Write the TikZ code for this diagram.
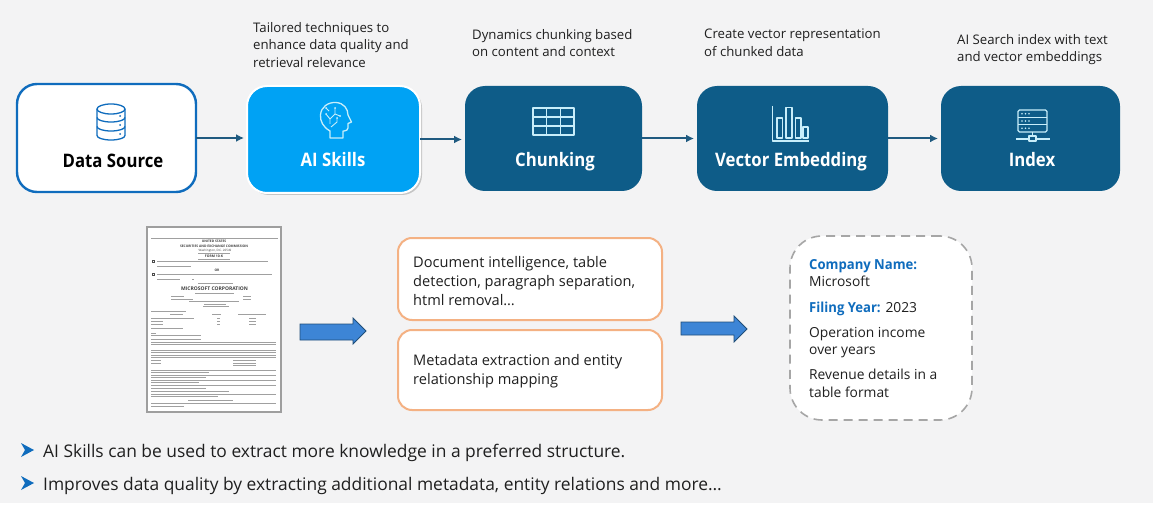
\documentclass[tikz,border=0pt]{standalone}
\usepackage{fontspec}
\setmainfont{Open Sans}
\newfontfamily\labfont[FakeStretch=0.9]{Open Sans}
\newfontfamily\keyfont[FakeStretch=0.95]{Open Sans}
\usetikzlibrary{arrows.meta,shadows}
\definecolor{bg}{HTML}{F3F3F4}
\definecolor{navy}{HTML}{0E5C88}
\definecolor{sky}{HTML}{00A2F4}
\definecolor{edgeblue}{HTML}{0F6CBD}
\definecolor{linkc}{HTML}{1F5A80}
\definecolor{orangeb}{HTML}{F4B183}
\definecolor{iconc}{HTML}{C8EEFA}
\definecolor{ink}{HTML}{1F1F1F}
\definecolor{thick}{HTML}{3D85D6}
\definecolor{thickb}{HTML}{1F4E79}
\definecolor{greyl}{HTML}{A0A0A0}
\tikzset{
 x=1pt,y=-1pt,
 pipeline/.style={rounded corners=20,minimum height=105,inner sep=0,outer sep=0,anchor=north west},
 darkbox/.style={pipeline,fill=navy},
 boxlabel/.style={inner sep=0,anchor=base,font=\labfont\fontsize{18.6}{22}\selectfont\bfseries},
 link/.style={draw=linkc,line width=2,-{Latex[length=8,width=8]},shorten >=3},
 caption/.style={anchor=north west,align=left,font=\fontsize{13.2}{17.4}\selectfont,text=ink,inner sep=0},
 orangebox/.style={draw=orangeb,line width=2,fill=white,rounded corners=14,inner sep=0,outer sep=0,anchor=north west},
 body/.style={anchor=north west,align=left,font=\fontsize{14.6}{19}\selectfont,text=ink,inner sep=0},
 factl/.style={anchor=north west,align=left,font=\fontsize{13.8}{17.5}\selectfont,text=ink,inner sep=0},
 bulletm/.style={fill=edgeblue,draw=none},
 bullett/.style={anchor=west,font=\fontsize{17.4}{20}\selectfont,text=ink,inner sep=0},
 ic/.style={draw=iconc,line width=1.3,line join=round},
 doct/.style={inner sep=0,text=black!75,font=\fontsize{3.3}{4}\selectfont\bfseries},
 docl/.style={draw=greyl,line width=1},
 bigarrow/.style={fill=thick,draw=thickb,line width=.8,line join=miter},
}
\begin{document}
\begin{tikzpicture}
\useasboundingbox (0,0) rectangle (1153,505);
\fill[bg] (0,0) rectangle (1153,503);
\fill[white] (0,503) rectangle (1153,505);

% pipeline boxes
\node[pipeline,draw=edgeblue,line width=2.4,fill=white,minimum width=179,minimum height=108] (ds) at (17,84) {};
\node[pipeline,draw=white,line width=2,fill=sky,minimum width=173,minimum height=107,
      drop shadow={shadow xshift=2pt,shadow yshift=-2pt,opacity=.4}] (ai) at (247,86) {};
\node[darkbox,minimum width=177] (ch) at (465,86) {};
\node[darkbox,minimum width=191] (ve) at (697,86) {};
\node[darkbox,minimum width=179] (ix) at (941,86) {};

\node[boxlabel,text=black] (dsl) at (113,167.5) {Data Source};
\node[boxlabel,text=white] (ail) at (333,166.5) {AI Skills};
\node[boxlabel,text=white] (chl) at (555,167) {Chunking};
\node[boxlabel,text=white] (vel) at (791,166.5) {Vector Embedding};
\node[boxlabel,text=white] (ixl) at (1032,166.5) {Index};

% connectors
\draw[link] (ds.east) -- (ds.east -| ai.west);
\draw[link] (ai.east) -- (ai.east -| ch.west);
\draw[link] (ch.east) -- (ch.east -| ve.west);
\draw[link] (ve.east) -- (ve.east -| ix.west);

% captions
\node[caption] (c1) at (253,22) {Tailored techniques to\\enhance data quality and\\retrieval relevance};
\node[caption] (c2) at (472,29) {Dynamics chunking based\\on content and context};
\node[caption] (c3) at (704,29) {Create vector representation\\of chunked data};
\node[caption] (c4) at (957,34) {AI Search index with text\\and vector embeddings};

% database icon
\draw[edgeblue,line width=1.3] (97,109) -- (97,135.5) arc[start angle=180,end angle=360,x radius=14,y radius=-4.5] -- (125,109);
\draw[edgeblue,line width=1.3] (111,109) ellipse[x radius=14,y radius=5];
\draw[edgeblue,line width=1.3] (97,117.5) arc[start angle=180,end angle=360,x radius=14,y radius=-4.5];
\draw[edgeblue,line width=1.3] (97,126.5) arc[start angle=180,end angle=360,x radius=14,y radius=-4.5];
\fill[edgeblue] (120,116) circle (1) (120,125) circle (1) (120,134) circle (1);

% head icon
\draw[ic] (330,138) -- (330,131) .. controls (323,127) and (320,121) .. (320.5,115)
  .. controls (321,107) and (328,102) .. (336,102.5) .. controls (344,103) and (348,109) .. (348,115)
  -- (351.5,122) -- (348,123.5) -- (348,128) .. controls (348,130) and (346,131) .. (344,131) -- (343,131) -- (343,138) -- cycle;
\draw[ic,line width=.9] (330,124) -- (330,119) -- (326,114) (330,119) -- (335,114) -- (335,108) (335,114) -- (340,116)
  (331,127) -- (337,122) -- (337,118) (326,108) -- (329,111);
\fill[iconc] (326,114) circle (1) (335,108) circle (1) (340,116) circle (1) (337,118) circle (1) (326,108) circle (1);

% table icon
\draw[ic,line width=1.5] (533,108) rectangle (574,135);
\draw[ic,line width=1.5] (533,117) -- (574,117) (533,126) -- (574,126) (546.6,108) -- (546.6,135) (560.3,108) -- (560.3,135);

% bar chart icon
\draw[ic] (772.5,106) -- (772.5,141) -- (808.5,141);
\draw[ic] (777,118) rectangle (782.5,138) (786,107.5) rectangle (792,138) (795.5,118) rectangle (801,138) (803,127) rectangle (808,138);

% server icon
\draw[ic,rounded corners=1.5] (1018,110) rectangle (1047,132);
\draw[ic] (1018,117.3) -- (1047,117.3) (1018,124.6) -- (1047,124.6) (1032.5,132) -- (1032.5,136);
\fill[iconc] (1022,113.7) circle (.9) (1025.5,113.7) circle (.9) (1029,113.7) circle (.9)
 (1022,121) circle (.9) (1025.5,121) circle (.9) (1029,121) circle (.9)
 (1022,128.3) circle (.9) (1025.5,128.3) circle (.9) (1029,128.3) circle (.9);
\draw[ic] (1016,139) -- (1029,139) (1036,139) -- (1050,139);
\draw[ic] (1029,136) rectangle (1036,141);

% document page
\node[draw=black!38,line width=2,fill=white,minimum width=134,minimum height=185,inner sep=0,outer sep=0,anchor=north west] (doc) at (147,226.5) {};
\draw[docl] (151,238.7) -- (278,238.7);
\node[doct] (d1) at (214,241.5) {UNITED STATES};
\node[doct] (d2) at (214,246) {SECURITIES AND EXCHANGE COMMISSION};
\node[doct,font=\fontsize{3}{4}\selectfont] (d3) at (215,250.5) {Washington, D.C. 20549};
\draw[docl,line width=.4] (198,253) -- (230,253);
\node[doct,font=\fontsize{3.4}{4}\selectfont\bfseries] (d4) at (214,256) {FORM 10-K};
\draw[docl,line width=.4] (198,259) -- (230,259);
\node[doct] (d5) at (217,270) {OR};
\node[doct,font=\fontsize{5}{5}\selectfont\bfseries] (d6) at (214.5,288.5) {MICROSOFT CORPORATION};
\foreach \yy/\xa/\xb in {
 261.5/157/268, 266/157/191, 274.7/157/272, 279/157/180, 279/192/194, 283/198/233, 293/195/234,
 296/171/184, 296/243/251, 299/171/193, 299/243/251, 301/189/239, 304/204/226, 306/203/229, 311/151/186,
 314/170/183, 314/212/221, 314/238/266, 318/151/194, 318/217/220, 318/249/256, 321/151/163, 321/217/220, 321/249/256,
 324/151/163, 324/217/220, 324/249/256, 328/151/183, 333/151/156, 335/151/201, 339/151/201, 342/151/276, 344/151/276,
 350/151/276, 352/151/276, 355/151/276, 357/151/276, 360/151/161, 360/233/256, 363/151/161, 363/233/256, 365/233/256,
 370/151/276, 372/151/209, 375/151/276, 377/151/206, 380/151/276, 382/151/199, 385/151/276, 388/151/206, 391/151/229,
 394/151/276, 396/151/218, 400/188/233, 403/151/276, 406/151/184}
 {\draw[docl] (\xa,\yy) -- (\xb,\yy);}
\draw[black!70,line width=.5] (152,260.5) rectangle (154,262.5) (152,273.7) rectangle (154,275.7);

% thick arrows
\draw[bigarrow] (300,324) -- (353,324) -- (353,318) -- (366,331) -- (353,344) -- (353,340) -- (300,340) -- cycle;
\draw[bigarrow] (681,322) -- (734,322) -- (734,316) -- (747,329) -- (734,342) -- (734,335) -- (681,335) -- cycle;

% orange boxes
\node[orangebox,minimum width=264,minimum height=82] (o1) at (398,238) {};
\node[orangebox,minimum width=264,minimum height=80] (o2) at (398,330) {};
\node[body] (t1) at (413,256) {Document intelligence, table\\detection, paragraph separation,\\html removal\dots};
\node[body] (t2) at (413,354) {Metadata extraction and entity\\relationship mapping};

% dashed box
\node[draw=black!35,line width=1.6,dash pattern=on 9 off 6,fill=white,rounded corners=32,minimum width=182,minimum height=184,inner sep=0,outer sep=0,anchor=north west] (fb) at (790,236) {};
\node[factl] (f1) at (809,259) {\textcolor{edgeblue}{\keyfont\bfseries Company Name:}\\Microsoft};
\node[factl] (f2) at (809,301.5) {\textcolor{edgeblue}{\keyfont\bfseries Filing Year:} 2023};
\node[factl] (f3) at (809,327) {Operation income\\over years};
\node[factl] (f4) at (809,369) {Revenue details in a\\table format};

% bullets
\fill[bulletm] (21,443) -- (34,450) -- (21,457) -- (25,450) -- cycle;
\fill[bulletm] (21,476) -- (34,483) -- (21,490) -- (25,483) -- cycle;
\node[bullett] (b1) at (43,453) {AI Skills can be used to extract more knowledge in a preferred structure.};
\node[bullett] (b2) at (43,486) {Improves data quality by extracting additional metadata, entity relations and more\dots};
\end{tikzpicture}
\end{document}
